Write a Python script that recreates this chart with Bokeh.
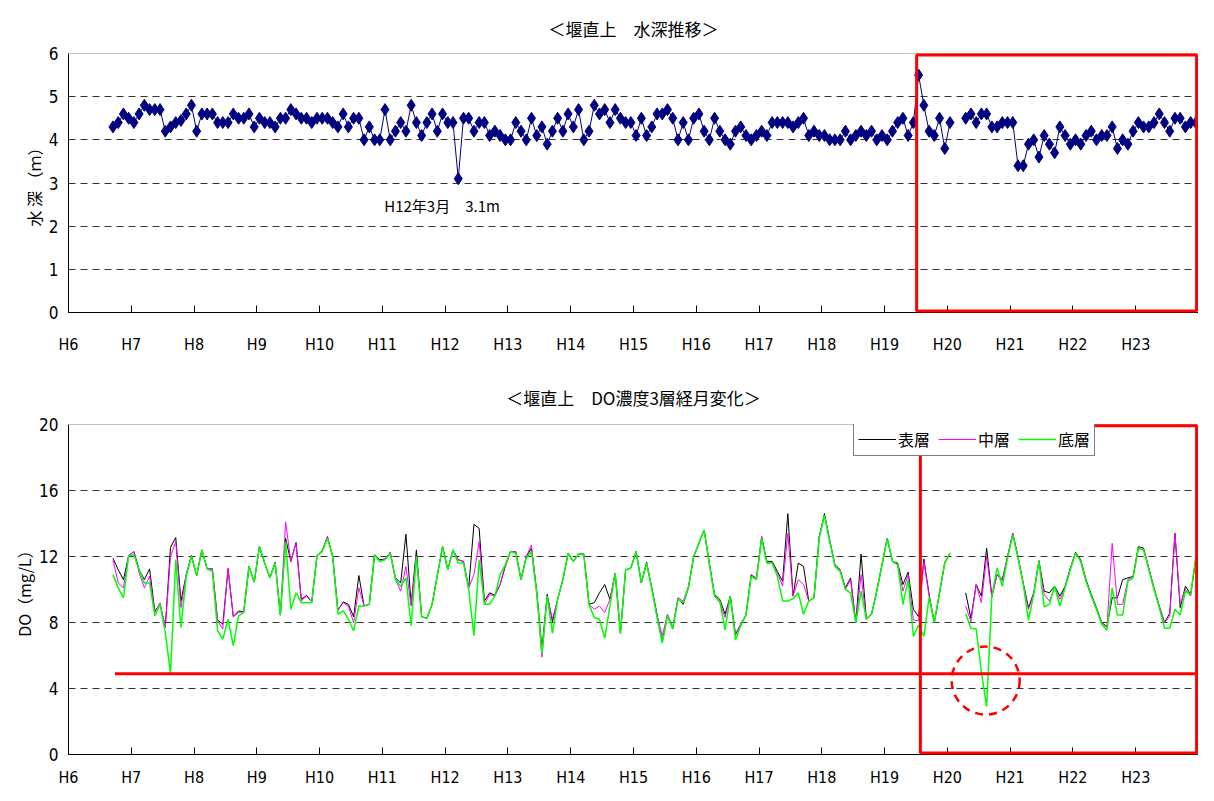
from bokeh.plotting import figure
from bokeh.layouts import column
from bokeh.models import Range1d, FixedTicker, Span, Label, Legend, LegendItem
from bokeh.embed import file_html
from bokeh.resources import INLINE

nan = float("nan")

# ---------------- data ----------------
START_YEAR = 6      # H6
START_MONTH = 9     # first observation: H6 September
YEAR_TICKS = list(range(6, 24))
YEAR_LABELS = ["H%d" % y for y in YEAR_TICKS]

# water depth (m), monthly
depth = [
    4.3, 4.4, 4.6, 4.5, 4.4, 4.6, 4.8, 4.7, 4.7, 4.7,
    4.2, 4.3, 4.4, 4.45, 4.6, 4.8, 4.2, 4.6, 4.6, 4.6,
    4.4, 4.4, 4.4, 4.6, 4.5, 4.5, 4.6, 4.3, 4.5, 4.4,
    4.4, 4.3, 4.5, 4.5, 4.7, 4.6, 4.5, 4.5, 4.4, 4.5,
    4.5, 4.5, 4.4, 4.3, 4.6, 4.3, 4.5, 4.5, 4.0, 4.3,
    4.0, 4.0, 4.7, 4.0, 4.2, 4.4, 4.2, 4.8, 4.4, 4.1,
    4.4, 4.6, 4.2, 4.6, 4.4, 4.4, 3.1, 4.5, 4.5, 4.2,
    4.4, 4.4, 4.1, 4.2, 4.1, 4.0, 4.0, 4.4, 4.2, 4.0,
    4.5, 4.1, 4.3, 3.9, 4.2, 4.5, 4.2, 4.6, 4.3, 4.7,
    4.0, 4.2, 4.8, 4.6, 4.7, 4.4, 4.7, 4.5, 4.4, 4.4,
    4.1, 4.5, 4.1, 4.3, 4.6, 4.6, 4.7, 4.5, 4.0, 4.4,
    4.0, 4.5, 4.6, 4.2, 4.0, 4.5, 4.2, 4.0, 3.9, 4.2,
    4.3, 4.1, 4.0, 4.1, 4.2, 4.1, 4.4, 4.4, 4.4, 4.4,
    4.3, 4.4, 4.5, 4.1, 4.2, 4.1, 4.1, 4.0, 4.0, 4.0,
    4.2, 4.0, 4.1, 4.2, 4.1, 4.2, 4.0, 4.1, 4.0, 4.2,
    4.4, 4.5, 4.1, 4.4, 5.5, 4.8, 4.2, 4.1, 4.5, 3.8, 4.4,
    nan, nan,
    4.5, 4.6, 4.4, 4.6, 4.6, 4.3, 4.3, 4.4, 4.4, 4.4,
    3.4, 3.4, 3.9, 4.0, 3.6, 4.1, 3.9, 3.7, 4.3, 4.1,
    3.9, 4.0, 3.9, 4.1, 4.2, 4.0, 4.1, 4.1, 4.3, 3.8,
    4.0, 3.9, 4.2, 4.4, 4.3, 4.3, 4.4, 4.6, 4.4, 4.2,
    4.5, 4.5, 4.3, 4.4, 4.4,
]

# DO (mg/L), surface layer
do_surface = [
    11.9, 11.2, 10.6, 12.05, 12.3, 11.2, 10.6, 11.25, 8.7, 9.1,
    7.75, 12.55, 13.15, 9.3, 10.9, 12.05, 10.85, 12.4, 11.25, 11.25,
    8.15, 7.9, 11.25, 8.35, 8.7, 8.65, 11.4, 10.45, 12.6, 11.6,
    10.7, 11.65, 8.45, 13.1, 11.7, 12.85, 9.4, 9.65, 9.25, 12.05,
    12.35, 13.2, 12.0, 8.75, 9.25, 9.1, 8.35, 10.85, 9.0, 9.1,
    12.1, 11.8, 11.85, 12.25, 10.7, 10.4, 13.35, 9.1, 12.4, 8.35,
    8.25, 9.1, 10.85, 12.6, 11.2, 12.4, 11.8, 11.7, 10.1, 13.95,
    13.7, 9.3, 9.8, 9.65, 10.3, 11.4, 12.3, 12.3, 10.6, 12.0,
    12.5, 9.9, 6.4, 9.7, 8.05, 9.4, 10.6, 12.15, 11.7, 12.15,
    12.15, 9.1, 9.2, 9.8, 10.3, 9.4, 11.0, 7.35, 11.2, 11.3,
    12.3, 10.4, 11.65, 10.1, 8.5, 6.85, 8.45, 7.65, 9.45, 9.1,
    10.1, 12.0, 12.8, 13.6, 11.6, 9.7, 9.4, 8.5, 9.6, 7.25,
    7.9, 8.45, 10.9, 10.6, 13.2, 11.7, 11.7, 11.1, 10.5, 14.6,
    9.6, 11.6, 11.4, 9.3, 9.5, 13.2, 14.6, 13.0, 11.5, 11.2,
    10.1, 10.7, 8.0, 12.15, 8.25, 8.5, 9.9, 11.5, 13.1, 11.7,
    11.6, 10.3, 11.05, 8.8, 8.35, 11.85, 9.7, 8.0, 9.8, 11.65, 12.2,
    nan, nan,
    9.8, 8.25, 10.3, 9.6, 12.5, 9.6, 10.9, 10.6, 12.0, 13.4,
    12.0, 10.4, 8.9, 9.8, 11.75, 9.9, 9.8, 10.2, 9.6, 10.2,
    11.3, 12.25, 11.8, 10.6, 9.7, 8.9, 8.0, 7.75, 9.5, 9.5,
    10.6, 10.7, 10.8, 12.6, 12.5, 11.3, 10.1, 9.0, 8.0, 8.55,
    13.4, 8.9, 10.2, 9.7, 11.95,
]

# DO (mg/L), middle layer
do_middle = [
    11.8, 10.4, 10.1, 12.05, 12.3, 11.0, 10.1, 10.8, 8.6, 9.2,
    7.7, 12.0, 12.9, 8.9, 10.9, 12.05, 10.85, 12.4, 11.25, 11.25,
    8.1, 7.6, 11.3, 8.35, 8.6, 8.65, 11.4, 10.45, 12.6, 11.6,
    10.7, 11.65, 8.45, 14.1, 11.7, 12.8, 9.3, 9.6, 9.25, 12.05,
    12.35, 13.2, 12.0, 8.75, 9.2, 9.0, 8.0, 10.1, 9.0, 9.1,
    12.1, 11.7, 11.85, 12.25, 10.6, 9.9, 11.4, 9.0, 12.0, 8.35,
    8.25, 9.1, 10.85, 12.6, 11.2, 12.4, 11.8, 11.7, 10.1, 10.9,
    12.9, 9.1, 9.7, 9.6, 10.3, 11.5, 12.3, 12.3, 10.6, 12.0,
    12.7, 9.8, 5.9, 9.6, 8.2, 9.4, 10.6, 12.2, 11.7, 12.15,
    12.15, 9.1, 8.8, 9.0, 8.6, 9.4, 11.0, 7.4, 11.2, 11.3,
    12.3, 10.4, 11.6, 10.1, 8.4, 7.2, 8.5, 7.7, 9.5, 9.3,
    10.2, 12.0, 12.8, 13.6, 11.6, 9.6, 9.2, 8.3, 9.6, 7.3,
    7.9, 8.45, 10.9, 10.7, 13.2, 11.6, 11.6, 11.0, 10.2, 13.4,
    9.6, 10.6, 10.3, 9.3, 9.5, 13.2, 14.5, 13.0, 11.5, 11.2,
    10.0, 10.6, 8.0, 10.9, 8.2, 8.5, 9.9, 11.5, 13.1, 11.7,
    11.5, 9.9, 10.9, 8.15, 8.1, 11.7, 9.6, 8.0, 9.8, 11.6, 12.2,
    nan, nan,
    9.0, 8.05, 10.3, 9.2, 12.0, 9.5, 10.9, 10.5, 12.0, 13.4,
    12.0, 10.3, 8.8, 9.7, 11.7, 9.7, 9.3, 10.1, 9.4, 10.1,
    11.3, 12.2, 11.7, 10.5, 9.6, 8.8, 8.0, 7.7, 12.8, 9.1,
    9.1, 10.6, 10.8, 12.5, 12.4, 11.3, 10.0, 9.0, 8.0, 8.35,
    13.4, 9.1, 10.0, 9.6, 11.9,
]

# DO (mg/L), bottom layer
do_bottom = [
    10.9, 10.1, 9.5, 12.05, 12.1, 11.2, 10.4, 10.4, 8.4, 9.1,
    7.4, 4.9, 11.8, 7.7, 10.8, 12.0, 10.85, 12.4, 11.25, 11.1,
    7.5, 7.0, 8.2, 6.6, 8.4, 8.6, 11.4, 10.45, 12.6, 11.6,
    10.7, 11.6, 8.45, 12.9, 8.8, 9.8, 9.2, 9.2, 9.2, 12.05,
    12.3, 13.1, 12.0, 8.5, 8.7, 8.2, 7.5, 9.0, 9.0, 9.1,
    12.1, 11.7, 11.8, 12.2, 10.6, 10.2, 10.7, 7.8, 12.0, 8.35,
    8.25, 9.1, 10.85, 12.6, 11.2, 12.4, 11.6, 11.6, 10.0, 7.2,
    11.8, 9.1, 9.1, 9.6, 10.9, 11.5, 12.3, 12.2, 10.6, 11.9,
    12.3, 9.8, 6.1, 9.6, 7.35, 9.4, 10.6, 12.2, 11.7, 12.15,
    12.1, 9.1, 8.3, 8.2, 7.05, 9.0, 11.0, 7.3, 11.2, 11.3,
    12.3, 10.4, 11.6, 10.0, 8.3, 6.75, 8.4, 7.6, 9.4, 9.2,
    10.1, 12.0, 12.8, 13.6, 11.5, 9.6, 9.3, 7.55, 9.6, 6.95,
    7.8, 8.45, 10.8, 10.6, 13.1, 11.6, 11.6, 10.8, 9.3, 9.3,
    9.45, 9.8, 8.5, 9.3, 9.5, 13.1, 14.5, 12.9, 11.4, 11.1,
    10.0, 9.8, 8.0, 9.9, 8.2, 8.5, 9.9, 11.5, 13.1, 11.7,
    11.5, 9.1, 10.6, 7.15, 7.85, 7.15, 9.5, 8.0, 9.8, 11.6, 12.2,
    nan, nan,
    8.55, 7.65, 7.6, 5.0, 2.9, 9.6, 11.3, 10.2, 11.9, 13.3,
    11.9, 10.3, 8.15, 9.7, 11.7, 8.95, 9.1, 10.2, 9.0, 10.1,
    11.2, 12.2, 11.7, 10.5, 9.6, 8.8, 7.9, 7.55, 10.1, 8.45,
    8.45, 10.5, 10.7, 12.5, 12.4, 11.2, 10.0, 8.9, 7.65, 7.65,
    8.8, 8.45, 9.9, 9.7, 11.9,
]

DO_LEVEL = 4.9          # red reference line (mg/L)
LAYER_NAMES = ["表層", "中層", "底層"]

n = len(depth)
assert n == len(do_surface) == len(do_middle) == len(do_bottom)
x = [START_YEAR + (START_MONTH - 1 + i + 0.5) / 12.0 for i in range(n)]

# ---------------- styling ----------------
JP = "Noto Sans CJK JP"
NUM = "'DejaVu Sans Condensed', Roboto, sans-serif"
X0, X1 = 6, 24
FW = 1130
FH1, FH2 = 259, 330


def style(p, yticks, grid_ticks, standoff):
    p.outline_line_color = None
    p.background_fill_color = "white"
    p.border_fill_color = "white"
    p.xgrid.visible = False
    p.ygrid.ticker = FixedTicker(ticks=grid_ticks)
    p.ygrid.grid_line_color = "#333333"
    p.ygrid.grid_line_dash = "7 5"
    p.ygrid.grid_line_width = 1

    xa = p.xaxis[0]
    xa.ticker = FixedTicker(ticks=YEAR_TICKS)
    xa.major_label_overrides = {t: lab for t, lab in zip(YEAR_TICKS, YEAR_LABELS)}
    xa.major_tick_in = 7
    xa.major_tick_out = 0
    xa.minor_tick_line_color = None
    xa.axis_line_color = "black"
    xa.major_tick_line_color = "black"
    xa.major_label_text_font = NUM
    xa.major_label_text_font_size = "16px"
    xa.major_label_text_color = "black"
    xa.major_label_standoff = standoff

    ya = p.yaxis[0]
    ya.ticker = FixedTicker(ticks=yticks)
    ya.major_tick_in = 0
    ya.major_tick_out = 0
    ya.minor_tick_line_color = None
    ya.axis_line_color = "black"
    ya.major_label_text_font = NUM
    ya.major_label_text_font_size = "17px"
    ya.major_label_text_color = "black"
    ya.major_label_standoff = 10
    ya.axis_label_text_font = JP
    ya.axis_label_text_font_size = "16px"
    ya.axis_label_text_font_style = "normal"
    ya.axis_label_text_color = "black"
    ya.axis_label_standoff = 0

    p.title.text_font = JP
    p.title.text_font_size = "17px"
    p.title.text_font_style = "normal"
    p.title.text_color = "black"
    p.title.align = "center"


# ---------------- top chart: water depth ----------------
p1 = figure(frame_width=FW, frame_height=FH1, x_range=Range1d(X0, X1), y_range=Range1d(0, 6),
            output_backend="svg", toolbar_location=None,
            min_border_left=68, min_border_right=0, min_border_top=51, min_border_bottom=44,
            title="＜堰直上　水深推移＞")
style(p1, [0, 1, 2, 3, 4, 5, 6], [1, 2, 3, 4, 5], 22)
p1.title.standoff = 26
p1.yaxis[0].axis_label = "水 深 （ｍ）"
p1.add_layout(Span(location=6, dimension="width", line_color="#888888", line_width=1))

p1.line(x, depth, line_color="#000080", line_width=1)
p1.scatter(x, depth, marker="diamond", size=12, fill_color="#000080", line_color="#000080")

p1.add_layout(Label(x=11.03, y=2.47, text="H12年3月　3.1m", text_font=JP,
                    text_font_size="15px", text_baseline="middle", text_color="black"))
box1 = p1.quad(left=[19.51], right=[23.97], bottom=[0.035], top=[5.965],
               fill_color=None, line_color="#FF0000", line_width=3)
box1.level = "overlay"

# ---------------- bottom chart: DO 3 layers ----------------
p2 = figure(frame_width=FW, frame_height=FH2, x_range=Range1d(X0, X1), y_range=Range1d(0, 20),
            output_backend="svg", toolbar_location=None,
            min_border_left=68, min_border_right=0, min_border_top=68, min_border_bottom=33,
            title="＜堰直上　DO濃度3層経月変化＞")
style(p2, [0, 4, 8, 12, 16, 20], [4, 8, 12, 16], 13)
p2.title.standoff = 29
p2.yaxis[0].axis_label = "DO（mg/L）"
p2.add_layout(Span(location=20, dimension="width", line_color="#888888", line_width=1))

r_s = p2.line(x, do_surface, line_color="black", line_width=1)
r_m = p2.line(x, do_middle, line_color="#FF00FF", line_width=1)
r_b = p2.line(x, do_bottom, line_color="#00FF00", line_width=1.5)

p2.line([6.74, X1], [DO_LEVEL, DO_LEVEL], line_color="#FF0000", line_width=3)
box2 = p2.quad(left=[19.57], right=[23.97], bottom=[0.09], top=[19.93],
               fill_color=None, line_color="#FF0000", line_width=3)
box2.level = "overlay"
p2.scatter([20.61], [4.48], marker="circle", size=68, fill_color=None,
           line_color="#FF0000", line_width=2.5, line_dash="8 6")

legend = Legend(items=[LegendItem(label=LAYER_NAMES[0], renderers=[r_s]),
                       LegendItem(label=LAYER_NAMES[1], renderers=[r_m]),
                       LegendItem(label=LAYER_NAMES[2], renderers=[r_b])],
                orientation="horizontal", location=(785, FH2 - 32),
                border_line_color="black", border_line_width=1,
                background_fill_color="white", background_fill_alpha=1,
                label_text_font=JP, label_text_font_size="16px",
                label_text_color="black",
                glyph_width=38, glyph_height=18, label_standoff=2,
                spacing=8, padding=4, margin=0)
p2.add_layout(legend)

layout = column(p1, p2, spacing=0)
open("out.html", "w").write(file_html(layout, INLINE))
